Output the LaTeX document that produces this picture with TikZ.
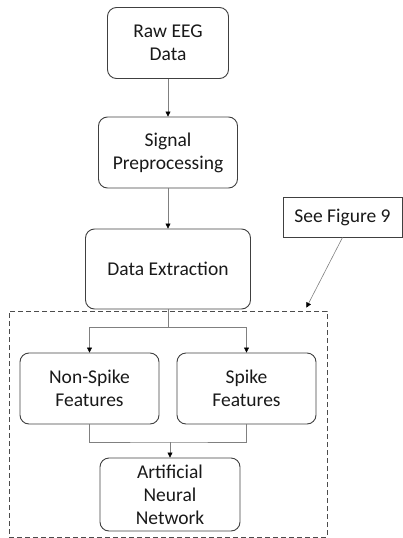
\documentclass[tikz,border=0pt]{standalone}
\usepackage{fontspec}
\setmainfont{Carlito}
\usetikzlibrary{arrows.meta}
\begin{document}
\begin{tikzpicture}[x=1pt,y=-1pt]
    \tikzset{flow box/.style={draw=black!75,line width=0.9pt,rounded corners=9pt,minimum width=#1,minimum height=71pt,align=center,inner sep=0pt,font=\fontsize{19.5}{23}\selectfont,text=black!90},
             flow line/.style={draw=black!50,line width=0.6pt},
             flow arrow/.style={flow line,-{Triangle[length=5pt,width=5pt,color=black]}}}
    \useasboundingbox (0,0) rectangle (403,538);

    % main chain
    \node [flow box=121pt] (raw) at (168,43) {Raw EEG\\Data};
    \node [flow box=139pt] (signal) at (168,152.5) {Signal\\Preprocessing};
    \node [flow box=165pt,minimum height=80pt] (extract) at (168,269) {Data Extraction};

    % dashed group and note
    \node [draw=black!70,line width=0.8pt,dash pattern=on 5pt off 3pt,minimum width=318pt,minimum height=226pt] (group) at (168,424) {};
    \node [draw=black!75,line width=0.9pt,minimum width=119pt,minimum height=40pt,inner sep=0pt,font=\fontsize{19.5}{23}\selectfont,text=black!90] (fig) at (342.5,217) {See Figure 9};

    \node [flow box=139pt] (nonspike) at (89.5,388.5) {Non-Spike\\Features};
    \node [flow box=139pt] (spike) at (246.5,388.5) {Spike\\Features};
    \node [flow box=140pt,minimum height=73pt] (ann) at (170,494.5) {Artificial\\Neural\\Network};

    \draw [flow arrow] (raw) -- (signal);
    \draw [flow arrow] (signal) -- (extract);
    \draw [flow arrow] (fig.south) -- ([xshift=-21pt,yshift=3pt]group.north east);

    \draw [flow line] (extract.south) -- ++(0,18) coordinate (split);
    \draw [flow arrow] (split) -| (nonspike.north);
    \draw [flow arrow] (split) -| (spike.north);

    \coordinate (merge) at (170,442);
    \draw [flow line] (nonspike.south) |- (merge) -| (spike.south);
    \draw [flow arrow] (merge) -- (ann.north);
\end{tikzpicture}
\end{document}
